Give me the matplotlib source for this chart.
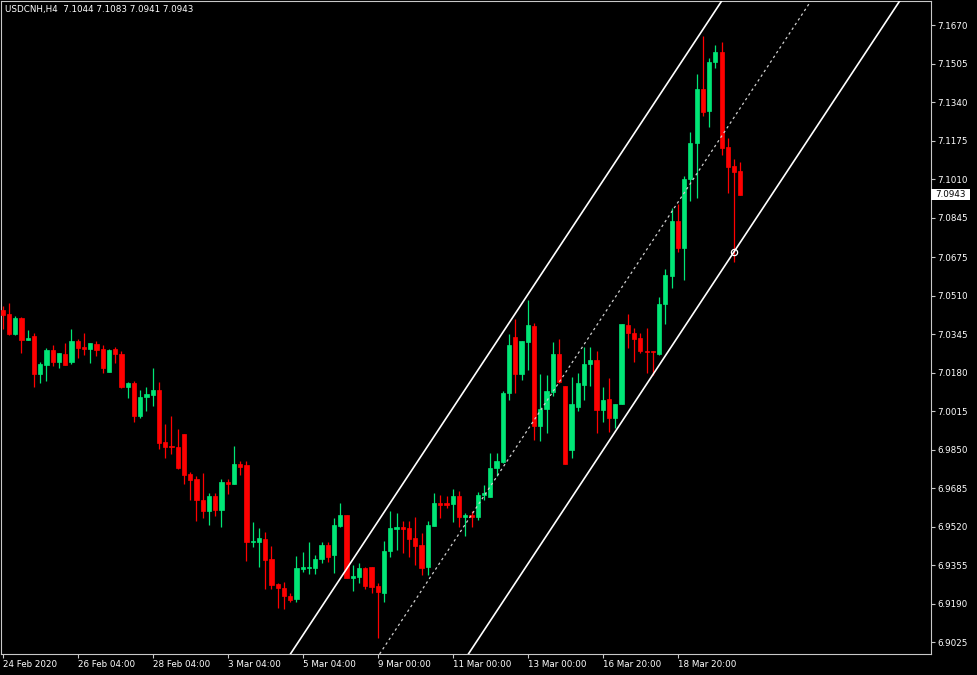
import numpy as np
import pandas as pd
import matplotlib
matplotlib.use("Agg")
import matplotlib.pyplot as plt
import matplotlib.transforms as mtransforms
from matplotlib.patches import Rectangle

# USDCNH H4 candles (24 Feb - 19 Mar 2020)
opens = [
    7.0448, 7.0430, 7.0347, 7.0413, 7.0321, 7.0337, 7.0175, 7.0213, 7.0277, 7.0226,
    7.0260, 7.0226, 7.0316, 7.0290, 7.0281, 7.0304, 7.0280, 7.0184, 7.0281, 7.0261,
    7.0118, 7.0136, 6.9995, 7.0076, 7.0084, 7.0107, 6.9883, 6.9865, 6.9862, 6.9917,
    6.9745, 6.9724, 6.9634, 6.9588, 6.9650, 6.9591, 6.9710, 6.9703, 6.9790, 6.9784,
    6.9455, 6.9455, 6.9467, 6.9381, 6.9274, 6.9257, 6.9224, 6.9211, 6.9340, 6.9341,
    6.9343, 6.9382, 6.9441, 6.9400, 6.9523, 6.9570, 6.9301, 6.9304, 6.9344, 6.9348,
    6.9265, 6.9235, 6.9417, 6.9511, 6.9518, 6.9515, 6.9472, 6.9441, 6.9346, 6.9523,
    6.9621, 6.9621, 6.9617, 6.9651, 6.9561, 6.9570, 6.9561, 6.9655, 6.9648, 6.9770,
    6.9798, 7.0091, 7.0333, 7.0175, 7.0313, 7.0381, 6.9952, 7.0023, 7.0097, 7.0259,
    7.0123, 6.9848, 7.0031, 7.0127, 7.0216, 7.0234, 7.0020, 7.0067, 6.9984, 7.0045,
    7.0384, 7.0351, 7.0328, 7.0274, 7.0274, 7.0260, 7.0473, 7.0594, 7.0830, 7.0715,
    7.1009, 7.1163, 7.1396, 7.1302, 7.1510, 7.1554, 7.1147, 7.1066, 7.1044,
]
highs = [
    7.0467, 7.0477, 7.0423, 7.0417, 7.0363, 7.0351, 7.0224, 7.0286, 7.0298, 7.0264,
    7.0306, 7.0367, 7.0324, 7.0351, 7.0308, 7.0316, 7.0298, 7.0280, 7.0291, 7.0273,
    7.0141, 7.0144, 7.0104, 7.0118, 7.0199, 7.0140, 6.9960, 6.9994, 6.9940, 6.9917,
    6.9753, 6.9738, 6.9750, 6.9663, 6.9663, 6.9724, 6.9723, 6.9865, 6.9801, 6.9801,
    6.9541, 6.9513, 6.9497, 6.9437, 6.9280, 6.9284, 6.9235, 6.9394, 6.9411, 6.9453,
    6.9398, 6.9453, 6.9453, 6.9556, 6.9620, 6.9570, 6.9355, 6.9363, 6.9347, 6.9348,
    6.9277, 6.9458, 6.9587, 6.9577, 6.9544, 6.9544, 6.9561, 6.9491, 6.9544, 6.9665,
    6.9655, 6.9651, 6.9681, 6.9673, 6.9577, 6.9588, 6.9668, 6.9698, 6.9834, 6.9834,
    7.0101, 7.0346, 7.0409, 7.0316, 7.0491, 7.0391, 7.0174, 7.0168, 7.0310, 7.0323,
    7.0123, 7.0160, 7.0177, 7.0289, 7.0289, 7.0274, 7.0117, 7.0156, 7.0044, 7.0388,
    7.0431, 7.0370, 7.0351, 7.0370, 7.0274, 7.0503, 7.0623, 7.0884, 7.0901, 7.1023,
    7.1211, 7.1460, 7.1624, 7.1527, 7.1584, 7.1597, 7.1187, 7.1096, 7.1083,
]
lows = [
    7.0367, 7.0341, 7.0341, 7.0264, 7.0320, 7.0120, 7.0137, 7.0145, 7.0208, 7.0201,
    7.0213, 7.0217, 7.0244, 7.0256, 7.0221, 7.0253, 7.0178, 7.0181, 7.0221, 7.0115,
    7.0073, 6.9970, 6.9987, 7.0017, 7.0038, 6.9851, 6.9815, 6.9831, 6.9767, 6.9704,
    6.9635, 6.9545, 6.9556, 6.9528, 6.9567, 6.9520, 6.9660, 6.9703, 6.9740, 6.9373,
    6.9434, 6.9348, 6.9254, 6.9251, 6.9172, 6.9168, 6.9198, 6.9198, 6.9327, 6.9317,
    6.9317, 6.9365, 6.9370, 6.9322, 6.9520, 6.9301, 6.9245, 6.9280, 6.9251, 6.9237,
    6.9041, 6.9198, 6.9391, 6.9420, 6.9405, 6.9388, 6.9355, 6.9313, 6.9311, 6.9523,
    6.9556, 6.9598, 6.9541, 6.9517, 6.9481, 6.9517, 6.9548, 6.9634, 6.9647, 6.9737,
    6.9791, 7.0063, 7.0094, 7.0148, 7.0191, 6.9891, 6.9888, 6.9920, 7.0081, 7.0134,
    6.9787, 6.9815, 7.0017, 7.0063, 7.0123, 6.9920, 6.9970, 6.9927, 6.9941, 7.0045,
    7.0284, 7.0227, 7.0264, 7.0178, 7.0170, 7.0256, 7.0388, 7.0541, 7.0698, 7.0577,
    7.0917, 7.0930, 7.1281, 7.1234, 7.1487, 7.1113, 7.0950, 7.0653, 7.0941,
]
closes = [
    7.0427, 7.0346, 7.0413, 7.0320, 7.0328, 7.0175, 7.0216, 7.0276, 7.0227, 7.0263,
    7.0213, 7.0316, 7.0287, 7.0281, 7.0306, 7.0278, 7.0201, 7.0277, 7.0261, 7.0118,
    7.0134, 6.9995, 7.0077, 7.0088, 7.0107, 6.9880, 6.9861, 6.9861, 6.9770, 6.9741,
    6.9721, 6.9634, 6.9588, 6.9651, 6.9591, 6.9710, 6.9704, 6.9788, 6.9775, 6.9455,
    6.9460, 6.9471, 6.9378, 6.9268, 6.9258, 6.9224, 6.9204, 6.9343, 6.9346, 6.9348,
    6.9382, 6.9441, 6.9391, 6.9527, 6.9570, 6.9301, 6.9308, 6.9344, 6.9265, 6.9262,
    6.9238, 6.9417, 6.9515, 6.9520, 6.9511, 6.9468, 6.9437, 6.9343, 6.9526, 6.9621,
    6.9613, 6.9611, 6.9651, 6.9560, 6.9570, 6.9560, 6.9655, 6.9664, 6.9771, 6.9800,
    7.0091, 7.0298, 7.0175, 7.0316, 7.0383, 6.9952, 7.0024, 7.0101, 7.0259, 7.0140,
    6.9787, 7.0047, 7.0134, 7.0217, 7.0234, 7.0020, 7.0063, 6.9987, 7.0044, 7.0387,
    7.0350, 7.0326, 7.0274, 7.0270, 7.0267, 7.0474, 7.0598, 7.0830, 7.0715, 7.1010,
    7.1163, 7.1396, 7.1298, 7.1510, 7.1554, 7.1144, 7.1063, 7.1041, 7.0943,
]

# x axis labels (every 12 bars)
tick_bars = [0, 12, 24, 36, 48, 60, 72, 84, 96, 108]
tick_labels = ["24 Feb 2020", "26 Feb 04:00", "28 Feb 04:00", "3 Mar 04:00", "5 Mar 04:00",
               "9 Mar 00:00", "11 Mar 00:00", "13 Mar 00:00", "16 Mar 20:00", "18 Mar 20:00"]

# price scale labels
price_ticks = [6.9025, 6.9190, 6.9355, 6.9520, 6.9685, 6.9850, 7.0015, 7.0180, 7.0345,
               7.0510, 7.0675, 7.0845, 7.1010, 7.1175, 7.1340, 7.1505, 7.1670]

# equidistant channel anchors (bar index, price)
chan_bars = [60, 118]
chan_upper = [6.9541, 7.1894]
chan_middle = [6.8962, 7.1315]
chan_lower = [6.8386, 7.0739]
anchor_bar = 117

symbol = "USDCNH,H4"

GREEN = "#00E676"
RED = "#FF0000"
FRAME = "#c8c8c8"

df = pd.DataFrame({"open": opens, "high": highs, "low": lows, "close": closes})
df["bar"] = np.arange(len(df))
up = df["close"] >= df["open"]
colors = np.where(up, GREEN, RED)

fig = plt.figure(figsize=(9.77, 6.75), dpi=100, facecolor="black")
ax = fig.add_axes([1 / 977, 21 / 675, 930 / 977, 653 / 675])
ax.set_facecolor("black")

# wicks and bodies
ax.vlines(df["bar"], df["low"], df["high"], colors=colors, linewidth=0.9, zorder=2)
body_low = np.minimum(df["open"], df["close"])
body_h = (df["close"] - df["open"]).abs()
ax.bar(df["bar"], body_h, bottom=body_low, width=0.66, color=colors,
       edgecolor=colors, linewidth=0.5, zorder=3)

# channel
ax.axline((chan_bars[0], chan_upper[0]), (chan_bars[1], chan_upper[1]),
          color="white", linewidth=1.2, zorder=4)
ax.axline((chan_bars[0], chan_lower[0]), (chan_bars[1], chan_lower[1]),
          color="white", linewidth=1.2, zorder=4)
ax.axline((chan_bars[0], chan_middle[0]), (chan_bars[1], chan_middle[1]),
          color="#cfcfcf", linewidth=0.9, linestyle=(0, (2, 2.5)), zorder=4)
anchor_price = np.interp(anchor_bar, chan_bars, chan_lower)
ax.plot(anchor_bar, anchor_price, marker="o", markersize=4.5, markerfacecolor="none",
        markeredgecolor="white", markeredgewidth=0.9, zorder=5)

ax.set_xlim(-0.27, 148.5)
ax.set_ylim(6.8974, 7.1773)

ax.yaxis.tick_right()
ax.set_yticks(price_ticks)
ax.set_yticklabels([f"{v:.4f}" for v in price_ticks])
ax.tick_params(axis="y", color=FRAME, labelcolor="white", labelsize=6.3,
               length=3, width=0.8, pad=1.5)
ax.set_xticks(tick_bars)
ax.set_xticklabels(tick_labels, ha="left")
ax.tick_params(axis="x", color=FRAME, labelcolor="white", labelsize=6.3,
               length=3, width=0.8, pad=1.5)

for s in ax.spines.values():
    s.set_color(FRAME)
    s.set_linewidth(0.8)

# header text
last = df.iloc[-1]
fig.text(5 / 977, 1 - 9.5 / 675,
         f"{symbol}  {last['open']:.4f} {last['high']:.4f} {last['low']:.4f} {last['close']:.4f}",
         color="white", fontsize=6.3, ha="left", va="center")

# current price box on the price scale
trans = mtransforms.blended_transform_factory(ax.transAxes, ax.transData)
ax.add_patch(Rectangle((1.0, last["close"] - 0.00225), 39 / 930, 0.0045,
                       transform=trans, clip_on=False, facecolor="white",
                       edgecolor="none", zorder=6))
ax.text(1.0 + 4 / 930, last["close"], f"{last['close']:.4f}", transform=trans,
        color="black", fontsize=6.3, ha="left", va="center", zorder=7, clip_on=False)

fig.savefig("out.png", dpi=100, facecolor="black")
